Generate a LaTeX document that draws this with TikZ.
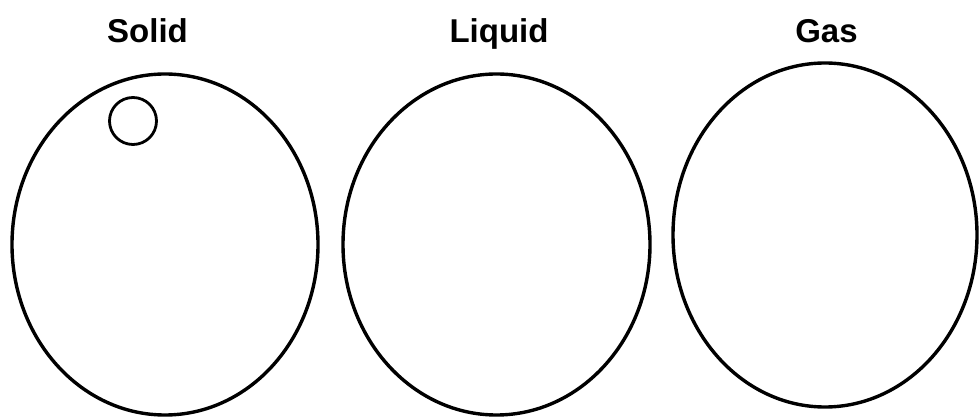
\documentclass[tikz,border=0pt]{standalone}
\usepackage{fontspec}
\setmainfont{Liberation Sans}
\usetikzlibrary{shapes.geometric}
\tikzset{
  phase/.style    = {draw, ellipse, line width=3.4pt, inner sep=0pt, outer sep=0pt},
  particle/.style = {draw, circle, line width=2.8pt, inner sep=0pt, outer sep=0pt,
                     minimum size=47pt},
  title/.style    = {anchor=base, font=\bfseries\fontsize{33}{33}\selectfont},
}

\begin{document}
\begin{tikzpicture}[x=1pt,y=-1pt]
\useasboundingbox (0,0) rectangle (979,419);
\node[phase,minimum width=306pt,minimum height=341pt] (solid) at (165,244.5) {};
\node[phase,minimum width=307pt,minimum height=341pt] (liquid) at (496.5,244.5) {};
\node[phase,minimum width=304pt,minimum height=344pt] (gas) at (825,235) {};
\node[particle] (p1) at (133,121) {};
\node[title] (tsolid) at (147.5,43) {Solid};
\node[title] (tliquid) at (499,43) {Liquid};
\node[title] (tgas) at (826.5,43) {Gas};
\end{tikzpicture}
\end{document}
